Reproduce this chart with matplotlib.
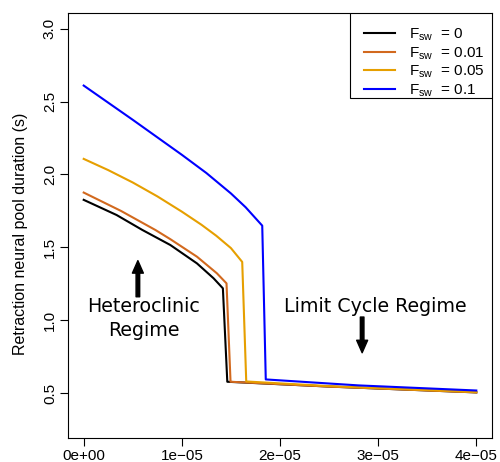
import matplotlib
matplotlib.use("Agg")
import matplotlib.pyplot as plt
from matplotlib.patches import Rectangle

# ---- data (x in units of 1e-5) ----
labels = ["0", "0.01", "0.05", "0.1"]
colors = ["#000000", "#D2691E", "#E69F00", "#0000FF"]

x_f0 = [0.0, 0.335, 0.596, 0.883, 1.154, 1.323, 1.418, 1.463, 2.5, 4.0]
y_f0 = [1.826, 1.722, 1.620, 1.516, 1.390, 1.288, 1.219, 0.578, 0.545, 0.505]

x_f001 = [0.0, 0.38, 0.731, 0.883, 1.154, 1.357, 1.455, 1.496, 2.5, 4.0]
y_f001 = [1.876, 1.750, 1.619, 1.556, 1.436, 1.322, 1.253, 0.578, 0.545, 0.505]

x_f005 = [0.0, 0.25, 0.5, 0.75, 1.0, 1.2, 1.35, 1.5, 1.615, 1.656, 2.5, 4.0]
y_f005 = [2.107, 2.030, 1.945, 1.850, 1.745, 1.655, 1.580, 1.495, 1.400, 0.580, 0.548, 0.507]

x_f01 = [0.0, 0.5, 0.75, 1.0, 1.25, 1.5, 1.65, 1.819, 1.855, 2.8, 4.0]
y_f01 = [2.610, 2.375, 2.255, 2.135, 2.010, 1.870, 1.775, 1.649, 0.594, 0.553, 0.518]

xs = [x_f0, x_f001, x_f005, x_f01]
ys = [y_f0, y_f001, y_f005, y_f01]

xticks = [0, 1, 2, 3, 4]
xticklabels = ["0e+00", "1e\u221205", "2e\u221205", "3e\u221205", "4e\u221205"]
yticks = [0.5, 1.0, 1.5, 2.0, 2.5, 3.0]

plt.rcParams['font.family'] = ['Liberation Sans', 'DejaVu Sans']

fig = plt.figure(figsize=(5.0, 4.62), dpi=100)
ax = fig.add_axes([0.136, 0.0519, 0.848, 0.92])

for x, y, c, l in zip(xs, ys, colors, labels):
    ax.plot([v * 1e-5 for v in x], y, color=c, lw=1.5,
            label=r"F$_{\mathregular{sw}}$  = " + l)

ax.set_xlim(-0.16e-5, 4.16e-5)
ax.set_ylim(0.192, 3.108)
ax.set_xticks([v * 1e-5 for v in xticks])
ax.set_xticklabels(xticklabels, fontsize=11)
ax.set_yticks(yticks)
ax.set_yticklabels([f"{v:.1f}" for v in yticks], fontsize=11, rotation=90, va='center')
ax.tick_params(direction='out', length=5.5, width=0.8, pad=2.5)
for s in ax.spines.values():
    s.set_linewidth(0.8)

fig.text(0.042, 1 - 234 / 462, "Retraction neural pool duration (s)", rotation=90,
         ha='center', va='center', fontsize=11.5)

# legend box (drawn separately to match the reference's padding)
ax.add_patch(Rectangle((0.665, 0.80), 0.335, 0.20, transform=ax.transAxes,
                       facecolor='white', edgecolor='black', lw=0.8, zorder=4))
leg = ax.legend(loc='upper left', bbox_to_anchor=(0.698, 0.968), fontsize=11,
                frameon=False, borderaxespad=0, borderpad=0,
                handlelength=2.0, handletextpad=0.95, labelspacing=0.12)
leg.set_zorder(5)

tfont = dict(family='DejaVu Sans', fontsize=13.7, ha='center', va='center')
ax.text(0.611e-5, 1.093, "Heteroclinic", **tfont)
ax.text(0.611e-5, 0.933, "Regime", **tfont)
ax.text(2.972e-5, 1.093, "Limit Cycle Regime", **tfont)

ap = dict(facecolor='black', edgecolor='black', width=2.6, headwidth=7.9,
          headlength=9.0, shrink=0)
ax.annotate("", xy=(0.552e-5, 1.409), xytext=(0.552e-5, 1.161), arrowprops=ap)
ax.annotate("", xy=(2.837e-5, 0.777), xytext=(2.837e-5, 1.022), arrowprops=ap)

fig.savefig("out.png", dpi=100)
